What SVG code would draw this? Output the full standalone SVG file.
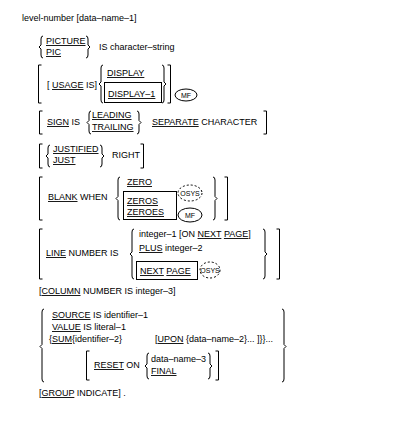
<svg xmlns="http://www.w3.org/2000/svg" width="400" height="425" viewBox="0 0 400 425">
<style>
text{font-family:"Liberation Sans",Arial,sans-serif;font-size:9px;fill:#000}
.u{text-decoration:underline}
.s{font-size:7px}
.b{fill:none;stroke:#000;stroke-width:1}
.d{fill:none;stroke:#000;stroke-width:1;stroke-dasharray:2 2}
</style>
<rect width="400" height="425" fill="#fff"/>
<g id="header"><text x="22" y="21">level-number [data–name–1]</text></g>
<g id="picture">
<path class="b" d="M43,36 Q41,36 41,39 V45 L39,47 L41,49 V55 Q41,58 43,58"/>
<text x="46" y="44" class="u">PICTURE</text>
<text x="46" y="55" class="u">PIC</text>
<path class="b" d="M86,36 Q88,36 88,39 V45 L90,47 L88,49 V55 Q88,58 86,58"/>
<text x="99" y="50">IS character–string</text>
</g>
<g id="usage">
<path class="b" d="M41.5,65 H38.5 V103 H41.5"/>
<text x="47" y="88">[ <tspan class="u">USAGE</tspan> IS]</text>
<path class="b" d="M103,65 Q101,65 101,68 V82 L99,84 L101,86 V100 Q101,103 103,103"/>
<text x="107" y="76" class="u">DISPLAY</text>
<rect class="b" x="104.5" y="82.5" width="57" height="20"/>
<text x="108" y="97" class="u">DISPLAY–1</text>
<path class="b" d="M162,65 Q164,65 164,68 V82 L166,84 L164,86 V100 Q164,103 162,103"/>
<path class="b" d="M167.5,65 H170.5 V103 H167.5"/>
<ellipse class="b" cx="186" cy="95" rx="11" ry="6"/>
<text x="186" y="97.5" class="s" text-anchor="middle">MF</text>
</g>
<g id="sign">
<path class="b" d="M42.5,111 H39.5 V134 H42.5"/>
<text x="47" y="125"><tspan class="u">SIGN</tspan> IS</text>
<path class="b" d="M91,111 Q89,111 89,114 V120.5 L87,122.5 L89,124.5 V131 Q89,134 91,134"/>
<text x="92" y="118" class="u">LEADING</text>
<text x="92" y="130" class="u">TRAILING</text>
<path class="b" d="M137,111 Q139,111 139,114 V120.5 L141,122.5 L139,124.5 V131 Q139,134 137,134"/>
<text x="152" y="125"><tspan class="u">SEPARATE</tspan> CHARACTER</text>
<path class="b" d="M263.5,111 H266.5 V134 H263.5"/>
</g>
<g id="justified">
<path class="b" d="M42.5,144 H39.5 V168 H42.5"/>
<path class="b" d="M50,145 Q48,145 48,148 V154 L46,156 L48,158 V164 Q48,167 50,167"/>
<text x="53" y="152" class="u">JUSTIFIED</text>
<text x="53" y="163" class="u">JUST</text>
<path class="b" d="M100,145 Q102,145 102,148 V154 L104,156 L102,158 V164 Q102,167 100,167"/>
<text x="112" y="158">RIGHT</text>
<path class="b" d="M140.5,144 H143.5 V168 H140.5"/>
</g>
<g id="blank">
<path class="b" d="M42.5,177 H39.5 V220 H42.5"/>
<text x="48" y="200"><tspan class="u">BLANK</tspan> WHEN</text>
<path class="b" d="M120,177 Q118,177 118,180 V196.5 L116,198.5 L118,200.5 V217 Q118,220 120,220"/>
<text x="127" y="185" class="u">ZERO</text>
<rect class="b" x="123.5" y="191.5" width="53" height="28"/>
<text x="127" y="204" class="u">ZEROS</text>
<text x="127" y="215" class="u">ZEROES</text>
<ellipse class="d" cx="190" cy="193" rx="12" ry="8"/>
<text x="190" y="195.5" class="s" text-anchor="middle">OSYS</text>
<ellipse class="b" cx="190" cy="215" rx="12" ry="7"/>
<text x="190" y="217.5" class="s" text-anchor="middle">MF</text>
<path class="b" d="M213,177 Q215,177 215,180 V196.5 L217,198.5 L215,200.5 V217 Q215,220 213,220"/>
<path class="b" d="M224.5,177 H227.5 V220 H224.5"/>
</g>
<g id="line">
<path class="b" d="M42.5,229 H39.5 V279 H42.5"/>
<text x="46" y="256"><tspan class="u">LINE</tspan> NUMBER IS</text>
<path class="b" d="M134,229 Q132,229 132,232 V252 L130,254 L132,256 V276 Q132,279 134,279"/>
<text x="139" y="237">integer–1 [ON <tspan class="u">NEXT</tspan> <tspan class="u">PAGE</tspan>]</text>
<text x="139" y="251"><tspan class="u">PLUS</tspan> integer–2</text>
<rect class="b" x="136.5" y="261.5" width="61" height="18"/>
<text x="140" y="274"><tspan class="u">NEXT</tspan> <tspan class="u">PAGE</tspan></text>
<ellipse class="d" cx="210" cy="270" rx="10" ry="8"/>
<text x="210" y="272.5" class="s" text-anchor="middle">OSYS</text>
<path class="b" d="M263,229 Q265,229 265,232 V252 L267,254 L265,256 V276 Q265,279 263,279"/>
<path class="b" d="M276.5,229 H279.5 V279 H276.5"/>
</g>
<g id="column"><text x="39" y="294">[<tspan class="u">COLUMN</tspan> NUMBER IS integer–3]</text></g>
<g id="source">
<path class="b" d="M44,309 Q42,309 42,312 V344.5 L40,346.5 L42,348.5 V379 Q42,382 44,382"/>
<text x="52" y="318"><tspan class="u">SOURCE</tspan> IS identifier–1</text>
<text x="52" y="330"><tspan class="u">VALUE</tspan> IS literal–1</text>
<text x="49" y="342">{<tspan class="u">SUM</tspan>{identifier–2}</text>
<text x="155" y="342">[<tspan class="u">UPON</tspan> {data–name–2}... ]}}...</text>
<path class="b" d="M89.5,351 H86.5 V380 H89.5"/>
<text x="94" y="368"><tspan class="u">RESET</tspan> ON</text>
<path class="b" d="M149,353 Q147,353 147,356 V364 L145,366 L147,368 V376 Q147,379 149,379"/>
<text x="151" y="362">data–name–3</text>
<text x="151" y="374" class="u">FINAL</text>
<path class="b" d="M208,353 Q210,353 210,356 V364 L212,366 L210,368 V376 Q210,379 208,379"/>
<path class="b" d="M215.5,351 H218.5 V380 H215.5"/>
<path class="b" d="M282,309 Q284,309 284,312 V344.5 L286,346.5 L284,348.5 V379 Q284,382 282,382"/>
</g>
<g id="group"><text x="39" y="396">[<tspan class="u">GROUP</tspan> INDICATE] .</text></g>
</svg>
